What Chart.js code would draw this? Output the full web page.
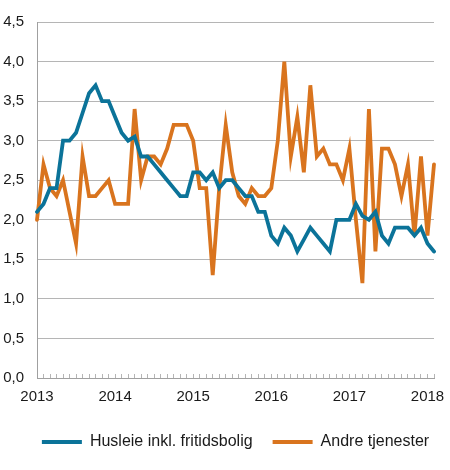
<!DOCTYPE html>
<html lang="no">
<head>
  <meta charset="UTF-8">
  <title>Husleie og andre tjenester</title>
  <script src="https://cdn.jsdelivr.net/npm/chart.js"></script>
  <style>
    body {
      margin: 0;
      background: #fff;
    }
    .wrap {
      width: 450px;
      height: 470px;
    }
  </style>
</head>
<body>
  <div class="wrap">
    <canvas id="chart"></canvas>
  </div>

  <script>
    // Monthly series, Jan 2013 - Feb 2018
    const years = [2013, 2014, 2015, 2016, 2017, 2018];
    const yTickLabels = ['0,0', '0,5', '1,0', '1,5', '2,0', '2,5', '3,0', '3,5', '4,0', '4,5'];
    const seriesNames = ['Husleie inkl. fritidsbolig', 'Andre tjenester'];

    const husleie = [
      2.1, 2.2, 2.4, 2.4, 3.0, 3.0, 3.1, 3.35, 3.6, 3.7, 3.5, 3.5,
      3.3, 3.1, 3.0, 3.05, 2.8, 2.8, 2.7, 2.6, 2.5, 2.4, 2.3, 2.3,
      2.6, 2.6, 2.5, 2.6, 2.4, 2.5, 2.5, 2.4, 2.3, 2.3, 2.1, 2.1,
      1.8, 1.7, 1.9, 1.8, 1.6, 1.75, 1.9, 1.8, 1.7, 1.6, 2.0, 2.0,
      2.0, 2.2, 2.05, 2.0, 2.1, 1.8, 1.7, 1.9, 1.9, 1.9, 1.8, 1.9,
      1.7, 1.6
    ];
    const andre = [
      2.0, 2.7, 2.4, 2.3, 2.5, 2.1, 1.7, 2.8, 2.3, 2.3, 2.4, 2.5,
      2.2, 2.2, 2.2, 3.4, 2.5, 2.8, 2.8, 2.7, 2.9, 3.2, 3.2, 3.2,
      3.0, 2.4, 2.4, 1.3, 2.4, 3.2, 2.6, 2.3, 2.2, 2.4, 2.3, 2.3,
      2.4, 3.0, 4.0, 2.8, 3.3, 2.6, 3.7, 2.8, 2.9, 2.7, 2.7, 2.5,
      2.9, 2.0, 1.2, 3.4, 1.6, 2.9, 2.9, 2.7, 2.3, 2.7, 1.8, 2.8,
      1.8, 2.7
    ];

    const colors = ['#0b7399', '#d9741e'];

    // month labels like "2013M01"
    const labels = [];
    years.forEach(y => {
      for (let m = 1; m <= 12; m++) {
        labels.push(y + 'M' + String(m).padStart(2, '0'));
      }
    });
    labels.length = husleie.length;

    const font = { family: '"Liberation Sans", Arial, sans-serif', size: 15 };
    const gridColor = '#b5b5b5';

    // centre the legend under the plot area and lift it a little
    const legendShift = {
      id: 'legendShift',
      afterLayout(chart) {
        const lg = chart.legend;
        const area = chart.chartArea;
        const dx = (area.left + area.right) / 2 - (lg.left + lg.right) / 2;
        lg.left += dx;
        lg.right += dx;
        lg.top -= 6;
        lg.bottom -= 6;
      }
    };

    new Chart(document.getElementById('chart'), {
      type: 'line',
      data: {
        labels: labels,
        datasets: [husleie, andre].map((d, i) => ({
          label: seriesNames[i],
          data: d,
          borderColor: colors[i],
          backgroundColor: colors[i],
          borderWidth: 3.8,
          borderCapStyle: 'round',
          pointRadius: 0,
          tension: 0
        }))
      },
      plugins: [legendShift],
      options: {
        responsive: true,
        maintainAspectRatio: false,
        animation: false,
        layout: {
          padding: { top: 14, right: 16, left: 2, bottom: 4 }
        },
        plugins: {
          tooltip: { enabled: false },
          legend: {
            position: 'bottom',
            labels: {
              usePointStyle: true,
              pointStyle: 'line',
              pointStyleWidth: 40,
              padding: 20,
              color: '#1a1a1a',
              font: { family: font.family, size: 16 }
            }
          }
        },
        scales: {
          x: {
            type: 'category',
            offset: false,
            grid: {
              drawOnChartArea: false,
              color: gridColor,
              tickLength: -4
            },
            border: { color: '#a0a0a0' },
            ticks: {
              autoSkip: false,
              maxRotation: 0,
              padding: 14,
              color: '#1a1a1a',
              font: font,
              callback: function (value) {
                const lab = this.getLabelForValue(value);
                return lab.endsWith('M01') ? lab.slice(0, 4) : '';
              }
            }
          },
          y: {
            min: 0,
            max: 4.5,
            afterFit: (scale) => { scale.width = 35; },
            grid: {
              color: gridColor,
              drawTicks: false
            },
            border: { color: '#a0a0a0' },
            ticks: {
              stepSize: 0.5,
              padding: 13,
              color: '#1a1a1a',
              font: font,
              callback: (value, index) => yTickLabels[index]
            }
          }
        }
      }
    });
  </script>
</body>
</html>
